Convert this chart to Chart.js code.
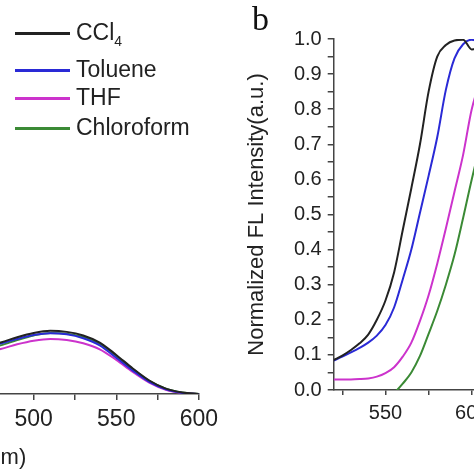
<!DOCTYPE html>
<html>
<head>
<meta charset="utf-8">
<script src="https://cdn.jsdelivr.net/npm/chart.js@4"></script>
<style>
  html, body { margin: 0; padding: 0; background: #fff; overflow: hidden; width: 474px; height: 474px; }
  canvas { position: absolute; }
  #left { left: -338px; top: 0; }
  #right { left: 240px; top: 0; }
  .legend { position: absolute; left: 15px; font-family: "Liberation Sans", Arial, sans-serif; font-size: 23px; color: #222; }
  .legend .item { position: absolute; left: 0; white-space: nowrap; }
  .legend .line { position: absolute; left: 0; width: 55px; height: 3px; }
  .legend .txt { position: absolute; left: 61px; line-height: 23px; top: -12px; }
  .legend sub { font-size: 14px; vertical-align: -6px; }
  #panel { position: absolute; left: 252px; top: 2px; font-family: "Liberation Serif", serif; font-size: 34px; color: #111; line-height: 34px; }
</style>
</head>
<body>
<canvas id="left" width="562" height="474"></canvas>
<canvas id="right" width="348" height="474"></canvas>
<div id="panel">b</div>
<div class="legend" id="legend"></div>
<script>
// left panel (a), only its right end is visible
var leftWl = [440, 450, 460, 470, 480, 490, 500, 510, 520, 530, 540, 550, 560, 570, 580, 590, 600];
var leftCCl4 = [0.100, 0.115, 0.125, 0.135, 0.145, 0.160, 0.172, 0.178, 0.175, 0.165, 0.145, 0.110, 0.072, 0.038, 0.015, 0.004, 0];
var leftToluene = [0.100, 0.112, 0.122, 0.132, 0.142, 0.155, 0.166, 0.171, 0.168, 0.157, 0.137, 0.102, 0.066, 0.034, 0.013, 0.003, 0];
var leftTHF = [0.085, 0.097, 0.107, 0.117, 0.127, 0.140, 0.150, 0.155, 0.152, 0.143, 0.126, 0.096, 0.062, 0.032, 0.012, 0.003, 0];
var leftChloroform = [0.095, 0.107, 0.117, 0.127, 0.137, 0.152, 0.165, 0.172, 0.170, 0.161, 0.142, 0.107, 0.070, 0.037, 0.015, 0.004, 0];

// right panel (b)
var rightWl = [520, 525, 530, 535, 540, 545, 550, 555, 560, 565, 570, 575, 580, 585, 590, 595, 600, 605, 610, 615];
var rightCCl4 = [0.085, 0.098, 0.114, 0.133, 0.158, 0.200, 0.255, 0.335, 0.455, 0.575, 0.700, 0.850, 0.950, 0.983, 0.996, 0.998, 0.970, 0.975, 0.950, 0.890];
var rightToluene = [0.084, 0.095, 0.107, 0.120, 0.135, 0.155, 0.185, 0.235, 0.315, 0.400, 0.505, 0.610, 0.720, 0.855, 0.945, 0.985, 0.998, 0.990, 0.960, 0.910];
var rightTHF = [0.030, 0.030, 0.030, 0.031, 0.033, 0.038, 0.048, 0.065, 0.095, 0.135, 0.197, 0.270, 0.360, 0.460, 0.565, 0.670, 0.800, 0.880, 0.940, 0.980];
var rightChloroform = [null, null, null, null, null, null, null, -0.010, 0.018, 0.050, 0.097, 0.160, 0.225, 0.300, 0.385, 0.490, 0.600, 0.700, 0.790, 0.860];

var names = ['CCl4', 'Toluene', 'THF', 'Chloroform'];
var colors = ['#222222', '#2a2ad6', '#cc33cc', '#3b8a35'];

var font = '"Liberation Sans", Arial, sans-serif';
var axisColor = '#444';

function pts(xs, ys) {
  var out = [];
  xs.forEach(function(x, i) { out.push({x: x, y: ys[i]}); });
  return out;
}

function sets(xs, list) {
  return list.map(function(ys, i) {
    return {
      label: names[i],
      data: pts(xs, ys),
      borderColor: colors[i],
      borderWidth: 2,
      pointRadius: 0,
      fill: false,
      cubicInterpolationMode: 'monotone'
    };
  });
}

var leftChart = new Chart(document.getElementById('left'), {
  type: 'line',
  data: { datasets: sets(leftWl, [leftCCl4, leftToluene, leftTHF, leftChloroform]) },
  options: {
    responsive: false,
    animation: false,
    layout: { padding: { left: 25, right: 25, top: 39, bottom: 3 } },
    plugins: { legend: { display: false }, tooltip: { enabled: false } },
    scales: {
      x: {
        type: 'linear', min: 290, max: 600,
        border: { color: axisColor, width: 1.5 },
        grid: { drawOnChartArea: false, tickLength: 6, color: axisColor, lineWidth: 1.5 },
        ticks: {
          stepSize: 25, includeBounds: false, padding: 6, color: '#222', maxRotation: 0, autoSkip: false,
          font: { family: font, size: 23 },
          callback: function(v) { return v % 50 === 0 ? v : ''; }
        },
        title: { display: true, text: 'Wavelength (nm)', color: '#222', font: { family: font, size: 22 }, padding: { top: 5, bottom: 0 } }
      },
      y: { display: false, min: 0, max: 1 }
    }
  }
});

var rightChart = new Chart(document.getElementById('right'), {
  type: 'line',
  data: { datasets: sets(rightWl, [rightCCl4, rightToluene, rightTHF, rightChloroform]) },
  options: {
    responsive: false,
    animation: false,
    layout: { padding: { left: 4, right: 30, top: 39, bottom: 43 } },
    plugins: { legend: { display: false }, tooltip: { enabled: false } },
    scales: {
      x: {
        type: 'linear', min: 520, max: 650,
        border: { color: axisColor, width: 1.5 },
        grid: { drawOnChartArea: false, tickLength: 5, color: axisColor, lineWidth: 1.5 },
        ticks: {
          stepSize: 25, includeBounds: false, padding: 6, color: '#222', maxRotation: 0, autoSkip: false,
          font: { family: font, size: 20 },
          callback: function(v) { return v % 50 === 0 ? v : ''; }
        }
      },
      y: {
        min: 0, max: 1,
        border: { color: axisColor, width: 1.5 },
        grid: { drawOnChartArea: false, tickLength: 6, color: axisColor, lineWidth: 1.5 },
        ticks: {
          stepSize: 0.05, padding: 6, color: '#222', autoSkip: false,
          font: { family: font, size: 20 },
          callback: function(v) { return Math.round(v * 100) % 10 === 0 ? v.toFixed(1) : ''; }
        },
        title: { display: true, text: 'Normalized FL Intensity(a.u.)', color: '#222', font: { family: font, size: 22 }, padding: { top: 0, bottom: 17.5 } }
      }
    }
  }
});

// legend of panel (a), drawn as html text
var legendY = [33, 70, 98, 128];
var legend = document.getElementById('legend');
names.forEach(function(n, i) {
  var item = document.createElement('div');
  item.className = 'item';
  item.style.top = legendY[i] + 'px';
  var label = n === 'CCl4' ? 'CCl<sub>4</sub>' : n;
  item.innerHTML = '<div class="line" style="background:' + colors[i] + ';top:-1px"></div><div class="txt">' + label + '</div>';
  legend.appendChild(item);
});
</script>
</body>
</html>
